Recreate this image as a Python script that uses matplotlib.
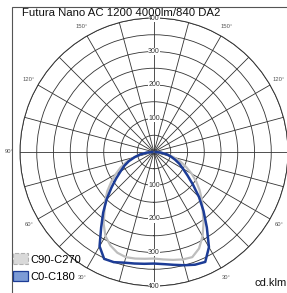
import matplotlib
matplotlib.use('Agg')
import matplotlib.pyplot as plt
import numpy as np
from matplotlib.patches import Patch, Rectangle

plt.rcParams['font.family'] = ['Liberation Sans', 'DejaVu Sans']

titulo = 'Futura Nano AC 1200 4000lm/840 DA2'
unidad = 'cd.klm'

# angulos gamma (grados) y intensidades cd/klm
gamma = [0, 5, 10, 15, 20, 25, 30, 35, 40, 45, 50, 55, 60, 65, 70, 75, 80, 85, 90]
c0 = [333, 336, 342, 350, 358, 362, 328, 275, 230, 190, 152, 122, 100, 84, 67, 52, 38, 20, 5]
c180 = [333, 335, 338, 342, 350, 352, 325, 275, 236, 200, 166, 138, 115, 98, 80, 60, 42, 22, 5]
c90 = [318, 322, 327, 332, 334, 318, 290, 258, 226, 202, 178, 154, 130, 106, 84, 62, 42, 20, 5]
c270 = [318, 320, 323, 325, 320, 308, 290, 262, 230, 206, 182, 156, 132, 110, 88, 62, 42, 20, 5]

anillos = [50, 100, 150, 200, 250, 300, 350, 400]
etiq_anillos = [100, 200, 300, 400]

W, H = 287, 293
fig = plt.figure(figsize=(W / 100, H / 100), dpi=100)
fig.patch.set_facecolor('white')

# marco (solo arriba e izquierda visibles)
fig.patches.append(Rectangle((12 / W, -0.1), 1.2, (H - 7) / H + 0.1,
                             transform=fig.transFigure, fill=False,
                             edgecolor='#555555', linewidth=0.8))

cx, cy, R = 154, 152, 134
ax = fig.add_axes([(cx - R) / W, (H - cy - R) / H, 2 * R / W, 2 * R / H],
                  projection='polar')
ax.set_theta_zero_location('S')
ax.set_ylim(0, 400)

g = np.radians(gamma)
# C90-C270 (gris)
th_gris = np.concatenate([-g[::-1], g[1:]])
r_gris = np.concatenate([c270[::-1], c90[1:]])
ax.plot(th_gris, r_gris, color='#bdbdbd', linewidth=1.6, zorder=3)
# C0-C180 (azul)
th_azul = np.concatenate([-g[::-1], g[1:]])
r_azul = np.concatenate([c180[::-1], c0[1:]])
ax.plot(th_azul, r_azul, color='#1c3c96', linewidth=1.8, zorder=4)

# rejilla
ax.set_rgrids(anillos, labels=[''] * len(anillos))
angs = np.arange(0, 360, 15)
labs = []
for a in angs:
    gg = a if a <= 180 else 360 - a
    if gg % 30 == 0 and gg != 180:
        labs.append('%d°' % gg)
    else:
        labs.append('')
ax.set_thetagrids(angs, labels=labs)
ax.tick_params(axis='x', labelsize=4.2, colors='#555555', pad=-3)
ax.grid(True, color='#333333', linewidth=0.6)
ax.spines['polar'].set_color('#333333')
ax.spines['polar'].set_linewidth(0.7)

for v in etiq_anillos:
    for t in (0, np.pi):
        ax.text(t, v, str(v), ha='center', va='center', fontsize=5,
                color='#333333', zorder=5,
                bbox=dict(facecolor='white', edgecolor='none', pad=0.3))

fig.text(22 / W, 1 - 13 / H, titulo, fontsize=8.2, ha='left', va='center',
         color='#111111', zorder=10)
fig.text(271 / W, 1 - 283 / H, unidad, fontsize=8, ha='center', va='center',
         color='#111111')

manijas = [Patch(facecolor='#d9d9d9', edgecolor='#b0b0b0', linestyle='--', linewidth=0.8),
           Patch(facecolor='#7c9bd6', edgecolor='#1c3c96', linewidth=0.9)]
fig.legend(manijas, ['C90-C270', 'C0-C180'], loc='lower left',
           bbox_to_anchor=(11 / W, 1 - 284 / H), frameon=False, fontsize=8,
           handlelength=1.35, handleheight=1.1, handletextpad=0.2,
           labelspacing=0.55, borderpad=0.2, borderaxespad=0)

fig.savefig('out.png', dpi=100)
